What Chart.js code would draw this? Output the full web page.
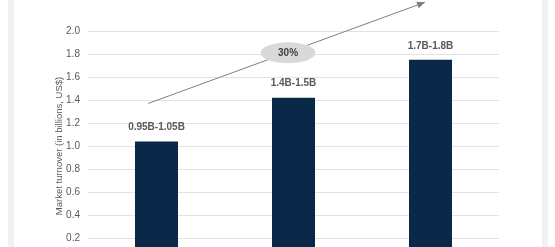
<!DOCTYPE html>
<html>
<head>
<meta charset="utf-8">
<script src="https://cdn.jsdelivr.net/npm/chart.js@4.4.0/dist/chart.umd.min.js"></script>
<style>
    html, body { margin: 0; padding: 0; background: #fff; overflow: hidden; }
    #wrap { position: relative; width: 555px; height: 247px; overflow: hidden; }
    #box { position: absolute; left: 0; top: 0; width: 555px; height: 275px; }
    .frame { position: absolute; top: 0; width: 6px; height: 247px; background: #eef2f4; }
</style>
</head>
<body>
<div id="wrap">
    <div class="frame" style="left: 8px;"></div>
    <div class="frame" style="left: 542px;"></div>
    <div id="box"><canvas id="turnover_chart"></canvas></div>
</div>
<script>
const categories = ['Year 1', 'Year 2', 'Year 3'];
const turnover = [1.04, 1.42, 1.75];
const rangeLabels = ['0.95B-1.05B', '1.4B-1.5B', '1.7B-1.8B'];
const growthLabel = '30%';
// growth arrow, in category index / value units
const arrowFrom = [-0.06, 1.37];
const arrowTo = [1.96, 2.25];
const bubbleAt = [0.96, 1.81];

let colors = {
    'bar': '#0a2848',
    'text': '#595959',
    'grid': '#e3e3e3',
    'arrow': '#7f7f7f',
    'bubble': '#d9d9d9',
    'bubble_text': '#404040',
}

const font_family = "'Liberation Sans', Arial, sans-serif";

const annotations = {
    id: 'annotations',
    afterDatasetsDraw(chart) {
        const ctx = chart.ctx;
        const x = chart.scales.x;
        const y = chart.scales.y;
        const meta = chart.getDatasetMeta(0);

        // range labels above bars
        ctx.save();
        ctx.font = `bold 10px ${font_family}`;
        ctx.fillStyle = colors.text;
        ctx.textAlign = 'center';
        ctx.textBaseline = 'middle';
        meta.data.forEach((bar, i) => {
            ctx.fillText(rangeLabels[i], bar.x, bar.y - 14);
        });

        // growth arrow
        const x1 = x.getPixelForValue(arrowFrom[0]), y1 = y.getPixelForValue(arrowFrom[1]);
        const x2 = x.getPixelForValue(arrowTo[0]), y2 = y.getPixelForValue(arrowTo[1]);
        ctx.strokeStyle = colors.arrow;
        ctx.lineWidth = 1;
        ctx.beginPath();
        ctx.moveTo(x1, y1);
        ctx.lineTo(x2, y2);
        ctx.stroke();
        const ang = Math.atan2(y2 - y1, x2 - x1);
        ctx.fillStyle = colors.arrow;
        ctx.beginPath();
        ctx.moveTo(x2, y2);
        ctx.lineTo(x2 - 8 * Math.cos(ang) + 3.5 * Math.sin(ang), y2 - 8 * Math.sin(ang) - 3.5 * Math.cos(ang));
        ctx.lineTo(x2 - 8 * Math.cos(ang) - 3.5 * Math.sin(ang), y2 - 8 * Math.sin(ang) + 3.5 * Math.cos(ang));
        ctx.closePath();
        ctx.fill();

        // growth bubble
        const bx = x.getPixelForValue(bubbleAt[0]), by = y.getPixelForValue(bubbleAt[1]);
        ctx.fillStyle = colors.bubble;
        ctx.beginPath();
        ctx.ellipse(bx, by, 27.5, 10.5, 0, 0, Math.PI * 2);
        ctx.fill();
        ctx.fillStyle = colors.bubble_text;
        ctx.font = `bold 10px ${font_family}`;
        ctx.fillText(growthLabel, bx, by + 0.5);
        ctx.restore();
    }
};

new Chart(document.getElementById('turnover_chart'), {
    type: 'bar',
    data: {
        labels: categories,
        datasets: [{
            label: 'Market turnover',
            data: turnover,
            backgroundColor: colors.bar,
            categoryPercentage: 1,
            barPercentage: 0.314,
        }]
    },
    options: {
        responsive: true,
        maintainAspectRatio: false,
        animation: false,
        layout: {
            padding: { left: 50, right: 56, top: 31, bottom: 10 }
        },
        plugins: {
            legend: { display: false },
            tooltip: { enabled: false },
        },
        scales: {
            x: {
                display: false,
            },
            y: {
                min: 0,
                max: 2.0,
                afterFit(scale) { scale.width = 38; },
                border: { display: false },
                grid: {
                    color: colors.grid,
                    drawTicks: false,
                },
                ticks: {
                    stepSize: 0.2,
                    padding: 8,
                    color: colors.text,
                    font: { size: 10, family: font_family },
                    callback: (v) => v.toFixed(1),
                },
                title: {
                    display: true,
                    text: 'Market turnover (in billions, US$)',
                    color: colors.text,
                    padding: { top: 4, bottom: 0 },
                    font: { size: 9.5, family: font_family },
                }
            }
        }
    },
    plugins: [annotations]
});
</script>
</body>
</html>
